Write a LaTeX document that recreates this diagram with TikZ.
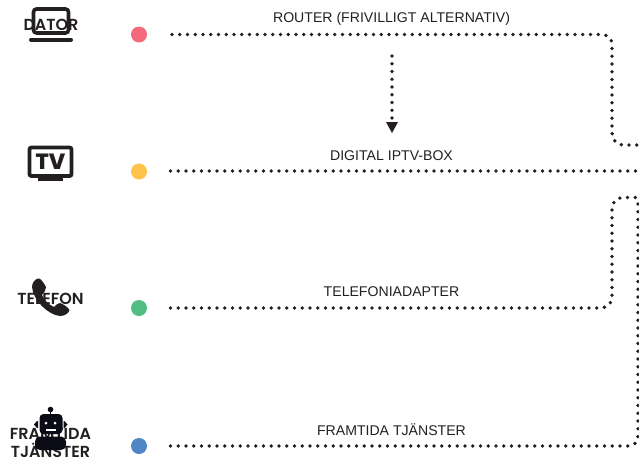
\documentclass[tikz,border=0pt]{standalone}
\usepackage{fontspec}
\setmainfont{Liberation Sans}
\newfontfamily\iconfont{Poppins}[BoldFont=* SemiBold]
\newfontfamily\tvfont{Poppins}[BoldFont=* ExtraBold]
\definecolor{ink}{HTML}{231F20}
\definecolor{robotink}{HTML}{0B0B16}
\definecolor{dotred}{HTML}{F4697B}
\definecolor{dotyellow}{HTML}{FEC34B}
\definecolor{dotgreen}{HTML}{4FBD84}
\definecolor{dotblue}{HTML}{4E86C6}
\tikzset{
  x=1pt,y=-1pt,
  wire/.style={line width=3.8pt,line cap=round,ink,dash pattern=on 0pt off 7.75pt},
  bullet/.style={circle,fill=#1,inner sep=0pt,minimum size=16pt},
  lbl/.style={font=\fontsize{14.1}{16}\selectfont,text=ink,inner sep=0pt},
  icontext/.style={font=\iconfont\bfseries\fontsize{16}{17.5}\selectfont,text=ink,inner sep=0pt,align=center},
}
\begin{document}
\begin{tikzpicture}
\useasboundingbox (0,0) rectangle (639,458);
% row bullets
\node[bullet=dotred] (d1) at (139,34.5) {};
\node[bullet=dotyellow] (d2) at (139,171.5) {};
\node[bullet=dotgreen] (d3) at (139,308) {};
\node[bullet=dotblue] (d4) at (139,446) {};
% labels
\node[lbl] (l1) at (391.5,19) {ROUTER (FRIVILLIGT ALTERNATIV)};
\node[lbl] (l2) at (391.5,155.5) {DIGITAL IPTV-BOX};
\node[lbl] (l3) at (391.5,291.5) {TELEFONIADAPTER};
\node[lbl] (l4) at (391.5,430) {FRAMTIDA TJÄNSTER};
% icon captions
\node[icontext] (t1) at (51,25) {DATOR};
\node[icontext] (t3) at (50.5,299) {TELEFON};
\node[icontext] (t4) at (50.5,443) {FRAMTIDA\\TJÄNSTER};
% connector ends
\coordinate (s1) at (172,34.5);
\coordinate (s2) at (170.5,171);
\coordinate (s3) at (170.5,308);
\coordinate (s4) at (170.5,446);
\coordinate (e1) at (640,145);
\coordinate (e2) at (640,171);
\coordinate (e3) at (640,197.5);
\coordinate (e4) at (638,197.5);
\coordinate (a1) at (392,56);
\coordinate (a2) at (392,133);
% connectors
\draw[wire] (s1) -- (602,34.5) .. controls (608,35) and (612,39) .. (612,45) -- (612,133) .. controls (612,140) and (617,145) .. (623,145) -- (e1);
\draw[wire] (s2) -- (e2);
\draw[wire] (s3) -- (602,308) .. controls (608,307) and (612,303) .. (612,297) -- (612,209) .. controls (612,202) and (617,197.5) .. (623,197.5) -- (e3);
\draw[wire] (s4) -- (628,446) .. controls (634,446) and (638,442) .. (638,436) -- (e4);
\draw[wire,shorten >=11pt] (a1) -- (a2);
\fill[ink] (386,122) -- (398,122) -- (392,133) -- cycle;
% laptop
\draw[ink,line width=3.6pt,rounded corners=3pt] (33.5,9) rectangle (68.5,33);
\draw[ink,line width=4pt,line cap=round] (31,39.5) -- (71,39.5);
% tv
\draw[ink,line width=3.8pt,rounded corners=2pt] (29.5,147.5) rectangle (71.5,176);
\fill[ink] (38,177) rectangle (62.5,180.5);
\node[font=\tvfont\bfseries\fontsize{22}{22}\selectfont,text=ink,inner sep=0pt] (tv) at (50.5,162) {TV};
% phone
\fill[ink] (38,278.5) .. controls (40,278) and (42,280) .. (46,287)
  .. controls (46.5,290) and (44,292) .. (42,295)
  .. controls (44,300) and (49,305) .. (54,307)
  .. controls (56,305) and (58,303) .. (60,303)
  .. controls (63,304) and (68,307) .. (69.5,310)
  .. controls (69,313) and (65,316) .. (60,316)
  .. controls (48,315) and (33,300) .. (32,287)
  .. controls (32,283) and (35,279) .. (38,278.5) -- cycle;
% robot
\fill[robotink] (50.5,409.5) circle (2.8pt);
\fill[robotink] (49.7,411) rectangle (51.3,415);
\fill[robotink,rounded corners=4pt] (39.5,414) rectangle (62.5,434);
\fill[robotink] (34,424.5) -- (37,421) -- (38,421) -- (38,428) -- (37,428) -- cycle;
\fill[robotink] (67.5,424.5) -- (64.5,421) -- (63.5,421) -- (63.5,428) -- (64.5,428) -- cycle;
\fill[white] (46,423) circle (1.5pt) (55,423) circle (1.5pt);
\fill[white] (46,428.5) rectangle (55.5,431);
\fill[robotink,rounded corners=5pt] (35,450) -- (35,436.5) -- (66,436.5) -- (66,450) -- cycle;
\end{tikzpicture}
\end{document}
